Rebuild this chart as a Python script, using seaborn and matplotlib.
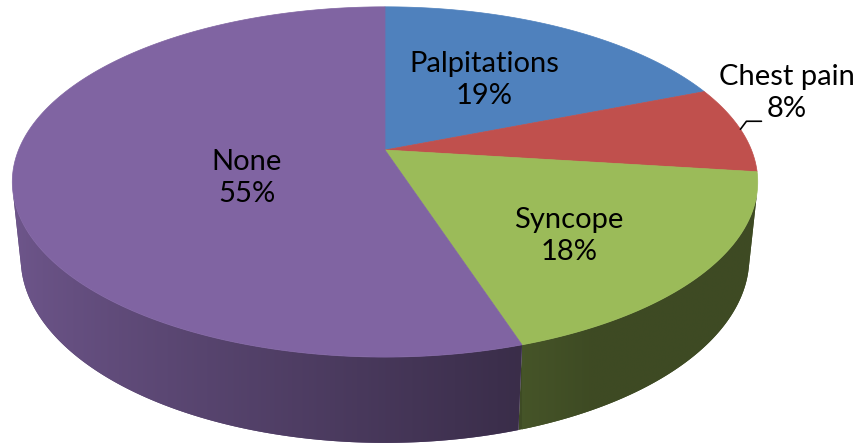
import numpy as np
import matplotlib.pyplot as plt
import seaborn as sns
from matplotlib.colors import to_rgb
from matplotlib.patches import Polygon

# data
labels = ["Palpitations", "Chest pain", "Syncope", "None"]
values = [19, 8, 18, 55]
colors = ["#4F81BD", "#C0504D", "#9BBB59", "#8064A2"]

# layout (pixel space of the 862x445 image)
label_pos = [(484, 80), (787, 93), (569, 236), (247, 178)]
cx, cy = 385.0, 150.0

# perspective camera for the 3d pie
elev = np.arcsin(0.462)
dist = 4.86
focal = 1781.0
depth_h = 0.236

sns.set_theme(style="white")
plt.rcParams['font.family'] = ['Lato', 'DejaVu Sans']


def project(theta, y=0.0, r=1.0):
    X = r * np.sin(theta)
    Z = -r * np.cos(theta)
    s, c = np.sin(elev), np.cos(elev)
    yc = y * c - Z * s
    d = dist - (y * s + Z * c)
    return cx + focal * X / d, cy - focal * yc / d


def shade(theta):
    # light from the left, walls facing right stay dark
    return np.clip(0.55 - 0.32 * np.sin(theta), 0.40, 0.88)


fig = plt.figure(figsize=(8.62, 4.45), dpi=100)
ax = fig.add_axes([0, 0, 1, 1])
ax.set_xlim(0, 862)
ax.set_ylim(445, 0)
ax.axis("off")

total = sum(values)
bounds = np.cumsum([0] + values) / total * 2 * np.pi

# side walls (only the part facing the camera), smooth gradient clipped to wall
lim = np.arccos(-1 / (dist * np.cos(elev)))
for i, col in enumerate(colors):
    lo, hi = max(bounds[i], lim), min(bounds[i + 1], 2 * np.pi - lim)
    if hi <= lo:
        continue
    ts = np.linspace(lo, hi, 300)
    tx, ty = project(ts)
    bx, by = project(ts[::-1], -depth_h)
    poly = Polygon(np.c_[np.r_[tx, bx], np.r_[ty, by]], closed=True,
                   fc=np.array(to_rgb(col)) * shade(ts.mean()), ec="none")
    ax.add_patch(poly)
    # per-column colour from the angle at that screen x
    order = np.argsort(tx)
    xs = np.linspace(tx.min(), tx.max(), 400)
    th = np.interp(xs, tx[order], ts[order])
    img = np.clip(np.array(to_rgb(col))[None, :] * shade(th)[:, None], 0, 1)
    ymin, ymax = min(ty.min(), by.min()), max(ty.max(), by.max())
    im = ax.imshow(img[None, :, :], extent=[tx.min(), tx.max(), ymax, ymin],
                   aspect="auto", interpolation="bilinear", zorder=1)
    im.set_clip_path(poly)

# top faces
for i, col in enumerate(colors):
    ts = np.linspace(bounds[i], bounds[i + 1], 200)
    px, py = project(ts)
    ax.fill(np.r_[cx, px], np.r_[cy, py], color=col, lw=0.5, ec=col, zorder=2)

# data labels
for i, (lab, v) in enumerate(zip(labels, values)):
    x, y = label_pos[i]
    ax.text(x, y, f"{lab}\n{v}%", ha="center", va="center",
            fontsize=21, linespacing=1.3, color="black", zorder=4)

# leader line for the small slice
mid = 0.5 * (bounds[1] + bounds[2])
lx, ly = project(mid)
ax.plot([lx, lx + 6, lx + 21], [ly, ly - 8, ly - 8], color="black", lw=1.2,
        zorder=4)

ax.set_xlim(0, 862)
ax.set_ylim(445, 0)
fig.savefig("out.png", dpi=100)
